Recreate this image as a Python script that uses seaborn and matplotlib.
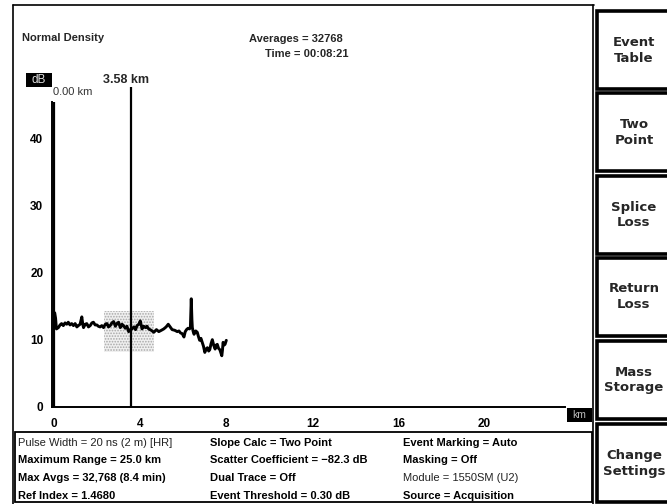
import matplotlib
matplotlib.use("Agg")
import matplotlib.pyplot as plt
from matplotlib.patches import Rectangle
from matplotlib.lines import Line2D
import seaborn as sns
import pandas as pd

# ---------------- data ----------------
dist_km = [0.00, 0.02, 0.06, 0.10, 0.19, 0.27, 0.34, 0.42, 0.50, 0.58,
           0.65, 0.73, 0.81, 0.89, 0.97, 1.05, 1.12, 1.20, 1.28, 1.33,
           1.36, 1.44, 1.51, 1.59, 1.67, 1.75, 1.82, 1.90, 1.98, 2.05,
           2.13, 2.21, 2.29, 2.37, 2.45, 2.52, 2.60, 2.68, 2.76, 2.84,
           2.91, 2.99, 3.07, 3.15, 3.22, 3.30, 3.38, 3.46, 3.54, 3.61,
           3.70, 3.78, 3.85, 3.93, 4.00, 4.08, 4.16, 4.24, 4.31, 4.39,
           4.51, 4.63, 4.75, 4.86, 4.98, 5.09, 5.20, 5.30, 5.39, 5.48,
           5.60, 5.72, 5.80, 5.87, 5.95, 6.03, 6.09, 6.15, 6.22, 6.29,
           6.33, 6.37, 6.40, 6.42, 6.46, 6.50, 6.58, 6.65, 6.70, 6.76,
           6.82, 6.88, 6.94, 7.00, 7.06, 7.12, 7.18, 7.23, 7.29, 7.35,
           7.42, 7.48, 7.53, 7.58, 7.64, 7.70, 7.75, 7.79, 7.82, 7.85,
           7.90, 7.94, 8.00]
loss_db = [13.9, 14.0, 13.2, 11.6, 11.8, 12.2, 12.4, 12.1, 12.5, 12.3,
           12.6, 12.2, 12.4, 12.1, 12.4, 11.9, 12.1, 12.3, 13.4, 12.2,
           11.8, 12.3, 12.4, 11.9, 12.1, 12.5, 12.6, 12.2, 12.2, 12.0,
           11.9, 12.1, 11.8, 12.3, 12.4, 11.9, 12.1, 12.5, 12.7, 12.0,
           12.4, 12.6, 11.8, 12.3, 12.1, 11.7, 12.0, 11.2, 11.5, 11.6,
           11.9, 11.5, 12.1, 12.3, 12.8, 11.6, 12.0, 11.8, 12.0, 11.6,
           11.4, 11.1, 11.5, 11.2, 11.4, 11.6, 11.9, 12.3, 11.9, 11.5,
           11.4, 11.2, 11.3, 11.0, 10.9, 10.4, 11.2, 11.5, 11.7, 11.6,
           11.9, 16.1, 13.0, 11.8, 11.2, 10.8, 11.3, 11.1, 10.5, 9.9,
           10.2, 9.6, 9.0, 8.1, 8.6, 8.8, 8.3, 8.5, 9.4, 10.0,
           9.1, 8.6, 9.2, 9.3, 8.7, 8.5, 8.0, 7.6, 8.4, 9.6,
           9.2, 9.3, 9.9]

marker_km = [0.00, 3.58]
marker_top_db = [45.5, 47.7]
marker_labels = ["0.00 km", "3.58 km"]

zone_km = [2.30, 4.63]
zone_db = [8.1, 14.3]

x_ticks = [0, 4, 8, 12, 16, 20]
y_ticks = [0, 10, 20, 30, 40]

header_left = "Normal Density"
header_center = ["Averages = 32768", "Time = 00:08:21"]

info_col1 = ["Pulse Width = 20 ns (2 m) [HR]", "Maximum Range = 25.0 km",
             "Max Avgs = 32,768 (8.4 min)", "Ref Index = 1.4680"]
info_col2 = ["Slope Calc = Two Point", "Scatter Coefficient = \u221282.3 dB",
             "Dual Trace = Off", "Event Threshold = 0.30 dB"]
info_col3 = ["Event Marking = Auto", "Masking = Off",
             "Module = 1550SM (U2)", "Source = Acquisition"]
info_bold1 = [False, True, True, True]
info_bold2 = [True, True, True, True]
info_bold3 = [True, True, False, True]

buttons = [("Event", "Table"), ("Two", "Point"), ("Splice", "Loss"),
           ("Return", "Loss"), ("Mass", "Storage"), ("Change", "Settings")]

# ---------------- style ----------------
sns.set_style("white")
plt.rcParams["font.family"] = ["Liberation Sans", "DejaVu Sans"]
plt.rcParams["hatch.linewidth"] = 0.8

W, H = 667, 504
fig = plt.figure(figsize=(W / 100, H / 100), dpi=100)
fig.patch.set_facecolor("white")


def fx(x):
    return x / W


def fy(y):
    return 1 - y / H


# axes placement (pixels)
ax_l, ax_r, ax_t, ax_b = 51.7, 565.0, 101.7, 406.7
ax = fig.add_axes([fx(ax_l), fy(ax_b), fx(ax_r - ax_l), (ax_b - ax_t) / H])
ax.set_facecolor("none")

df = pd.DataFrame({"km": dist_km, "dB": loss_db})

ax.add_patch(Rectangle((zone_km[0], zone_db[0]), zone_km[1] - zone_km[0],
                       zone_db[1] - zone_db[0], facecolor="#f0f0f0",
                       edgecolor="#a8a8a8", hatch="......", lw=0, zorder=1))

sns.lineplot(data=df, x="km", y="dB", ax=ax, color="black", lw=2.1,
             sort=False, estimator=None, zorder=3)

for k, top in zip(marker_km, marker_top_db):
    ax.plot([k, k], [0, top], color="black", lw=1.6, clip_on=False,
            solid_capstyle="butt", zorder=4)

ax.set_xlim(-0.12, 23.75)
ax.set_ylim(0, 45.5)
ax.set_xlabel("")
ax.set_ylabel("")

for s in ["top", "right"]:
    ax.spines[s].set_visible(False)
for s in ["left", "bottom"]:
    ax.spines[s].set_color("black")
    ax.spines[s].set_linewidth(1.4)

ax.set_xticks(x_ticks)
ax.set_xticklabels([str(t) for t in x_ticks], fontweight="bold", fontsize=8.5)
ax.set_yticks(y_ticks)
ax.set_yticklabels([str(t) for t in y_ticks], fontweight="bold", fontsize=8.5)
ax.set_xticks([2, 6, 10, 14, 18, 22], minor=True)
ax.set_yticks([5, 15, 25, 35, 45], minor=True)
ax.tick_params(axis="both", which="major", direction="out", length=5,
               width=1.2, color="black", labelcolor="black")
ax.tick_params(axis="x", which="major", pad=3)
ax.tick_params(axis="y", which="major", pad=1)
ax.tick_params(axis="both", which="minor", direction="inout", length=3,
               width=1.0, color="black")

# ---------------- marker labels ----------------
fig.text(fx(53), fy(92), marker_labels[0], fontsize=8, color="#333333",
         ha="left", va="center")
fig.text(fx(103), fy(80), marker_labels[1], fontsize=9, fontweight="bold",
         ha="left", va="center")

# dB box
fig.patches.append(Rectangle((fx(26), fy(87)), fx(26), 14 / H,
                             transform=fig.transFigure, facecolor="black",
                             edgecolor="none"))
fig.text(fx(39), fy(80), "dB", color="#dddddd", fontsize=8.5,
         ha="center", va="center")

# km box
fig.patches.append(Rectangle((fx(567), fy(422)), fx(25), 14 / H,
                             transform=fig.transFigure, facecolor="black",
                             edgecolor="none"))
fig.text(fx(579), fy(415), "km", color="#bbbbbb", fontsize=7.5,
         ha="center", va="center")

# ---------------- header text ----------------
fig.text(fx(22), fy(38), header_left, fontsize=8, fontweight="bold",
         ha="left", va="center")
fig.text(fx(249), fy(39), header_center[0], fontsize=8, fontweight="bold",
         ha="left", va="center")
fig.text(fx(265), fy(54), header_center[1], fontsize=8, fontweight="bold",
         ha="left", va="center")

# ---------------- frame lines ----------------
for (x0, y0, x1, y1) in [(13, 5, 594, 5), (13, 5, 13, 504), (593, 5, 593, 504)]:
    fig.add_artist(Line2D([fx(x0), fx(x1)], [fy(y0), fy(y1)],
                          transform=fig.transFigure, color="black", lw=1.2))

# ---------------- info box ----------------
fig.patches.append(Rectangle((fx(15), fy(502)), fx(577), 70 / H,
                             transform=fig.transFigure, facecolor="white",
                             edgecolor="black", lw=1.3))
rows_y = [442.5, 460, 478, 496]
for col_x, texts, bolds in [(18, info_col1, info_bold1),
                            (210, info_col2, info_bold2),
                            (403, info_col3, info_bold3)]:
    for t, b, yy in zip(texts, bolds, rows_y):
        fig.text(fx(col_x), fy(yy), t, fontsize=8,
                 fontweight="bold" if b else "normal",
                 color="black" if b else "#222222",
                 ha="left", va="center")

# ---------------- buttons ----------------
btn_top = [11, 93, 176, 258, 341, 424]
btn_h = 78
for (l1, l2), top in zip(buttons, btn_top):
    fig.patches.append(Rectangle((fx(597), fy(top + btn_h)), fx(80), btn_h / H,
                                 transform=fig.transFigure, facecolor="white",
                                 edgecolor="black", lw=2.6, clip_on=False))
    cy = top + btn_h / 2
    fig.text(fx(634), fy(cy - 8), l1, fontsize=9.5, fontweight="bold",
             family=["DejaVu Sans"], ha="center", va="center")
    fig.text(fx(634), fy(cy + 8), l2, fontsize=9.5, fontweight="bold",
             family=["DejaVu Sans"], ha="center", va="center")

fig.savefig("out.png", dpi=100, facecolor="white")
